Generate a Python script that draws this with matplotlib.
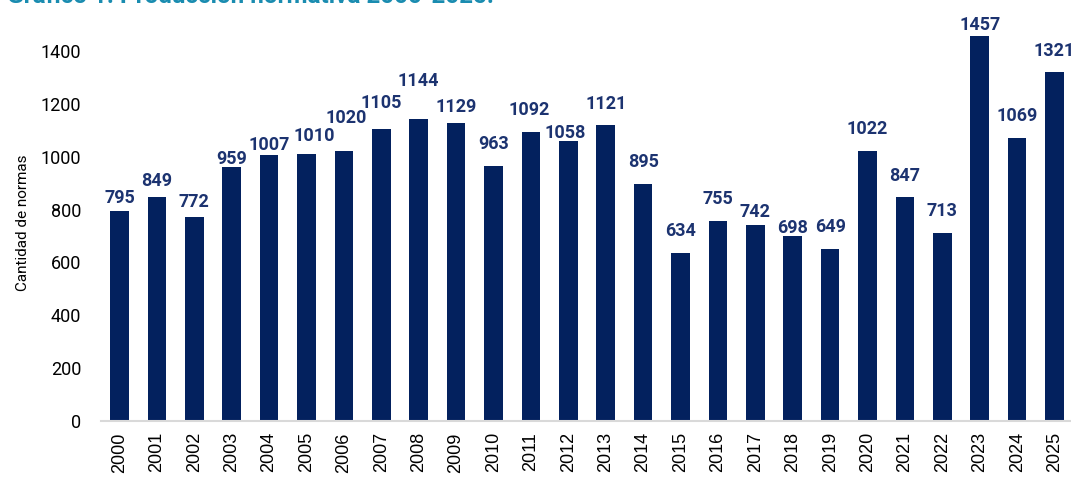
import matplotlib
matplotlib.use("Agg")
import matplotlib.pyplot as plt

years = [str(y) for y in range(2000, 2026)]
normas = [795, 849, 772, 959, 1007, 1010, 1020, 1105, 1144, 1129, 963, 1092, 1058,
          1121, 895, 634, 755, 742, 698, 649, 1022, 847, 713, 1457, 1069, 1321]
yticks = [0, 200, 400, 600, 800, 1000, 1200, 1400]

# label placement above each bar (pixels), as staggered in the original
label_dy = [8, 11, 10, 3, 5, 13, 28, 21, 33, 11, 17, 17, 3, 16, 17, 17, 17, 8, 3, 17,
            17, 16, 17, 6, 17, 16]
label_dx = [0, 0, 0, 0, 0, 8, 2, 0, 0, 0, 0, -2, -3, 0, 0, 0, 0, 0, 0, 0,
            0, 0, 0, 0, 0, 0]

bar_color = "#03215e"
label_color = "#1c3370"

fig = plt.figure(figsize=(10.71, 4.79), dpi=100)
ax = fig.add_axes([0.0941, 0.121, 0.908, 0.828])

x = range(len(years))
ax.bar(x, normas, width=0.5, color=bar_color, zorder=2)

for i, v in enumerate(normas):
    ax.annotate(str(v), (i, v), xytext=(label_dx[i] * 0.72, label_dy[i] * 0.72),
                textcoords="offset points", ha="center", va="baseline",
                fontsize=13, fontweight="bold", family="Roboto",
                color=label_color, annotation_clip=False)

ax.set_xlim(-0.5, len(years) - 0.5)
ax.set_ylim(0, 1500)
ax.set_yticks(yticks)
ax.set_yticklabels([str(t) for t in yticks], fontsize=13, family="Roboto")
ax.set_xticks(list(x))
ax.set_xticklabels(years, rotation=90, fontsize=13, family="Liberation Sans")
ax.tick_params(axis="both", length=0, colors="black")
ax.tick_params(axis="y", pad=14)
ax.tick_params(axis="x", pad=8)

for s in ["top", "right", "left"]:
    ax.spines[s].set_visible(False)
ax.spines["bottom"].set_color("#d9d9d9")
ax.spines["bottom"].set_linewidth(1.5)

ax.set_ylabel("Cantidad de normas", fontsize=11, family="Roboto", labelpad=8)

fig.text(0.007, 0.9937, "Gráfico 1. Producción normativa 2000-2025.", fontsize=17.5,
         fontweight="bold", family="Roboto", color="#1a8cb0", va="baseline")

fig.savefig("out.png", dpi=100)
